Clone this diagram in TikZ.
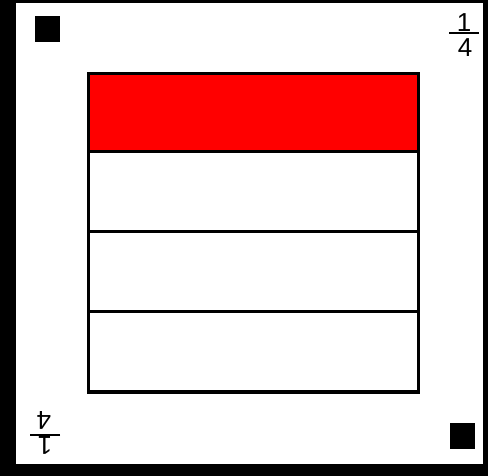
\documentclass[tikz,border=0pt]{standalone}
\usepackage{fontspec}
\setmainfont{Liberation Sans}
\begin{document}
\begin{tikzpicture}[x=1pt,y=-1pt,
  digit/.style={inner sep=0pt, font=\fontsize{26}{26}\selectfont},
  frame/.style={draw=black, line width=3.5pt},
  quarter/.pic={
    \node[digit] (-one) at (0,-10.5) {1};
    \node[digit] (-four) at (1,14.5) {4};
    \coordinate (-bl) at (-15,0);
    \coordinate (-br) at (15,0);
    \draw[line width=1.8pt] (-bl) -- (-br);
  }]
\useasboundingbox (0,0) rectangle (488,476);
\fill[black] (0,0) rectangle (488,476);
\fill[white] (16,3) rectangle (483,464);
\fill[red] (88.5,73.3) rectangle (418.5,151.6);
\draw[frame] (88.5,73.3) rectangle (418.5,392);
\foreach \y in {151.6,231.6,311.7} \draw[frame] (88.5,\y) -- (418.5,\y);
\fill[black] (35,16.5) rectangle (60,42.5);
\fill[black] (450,423) rectangle (475,449);
\pic (tr) at (464,33) {quarter};
\pic[rotate=180, transform shape] (bl) at (45,435) {quarter};
\end{tikzpicture}
\end{document}
